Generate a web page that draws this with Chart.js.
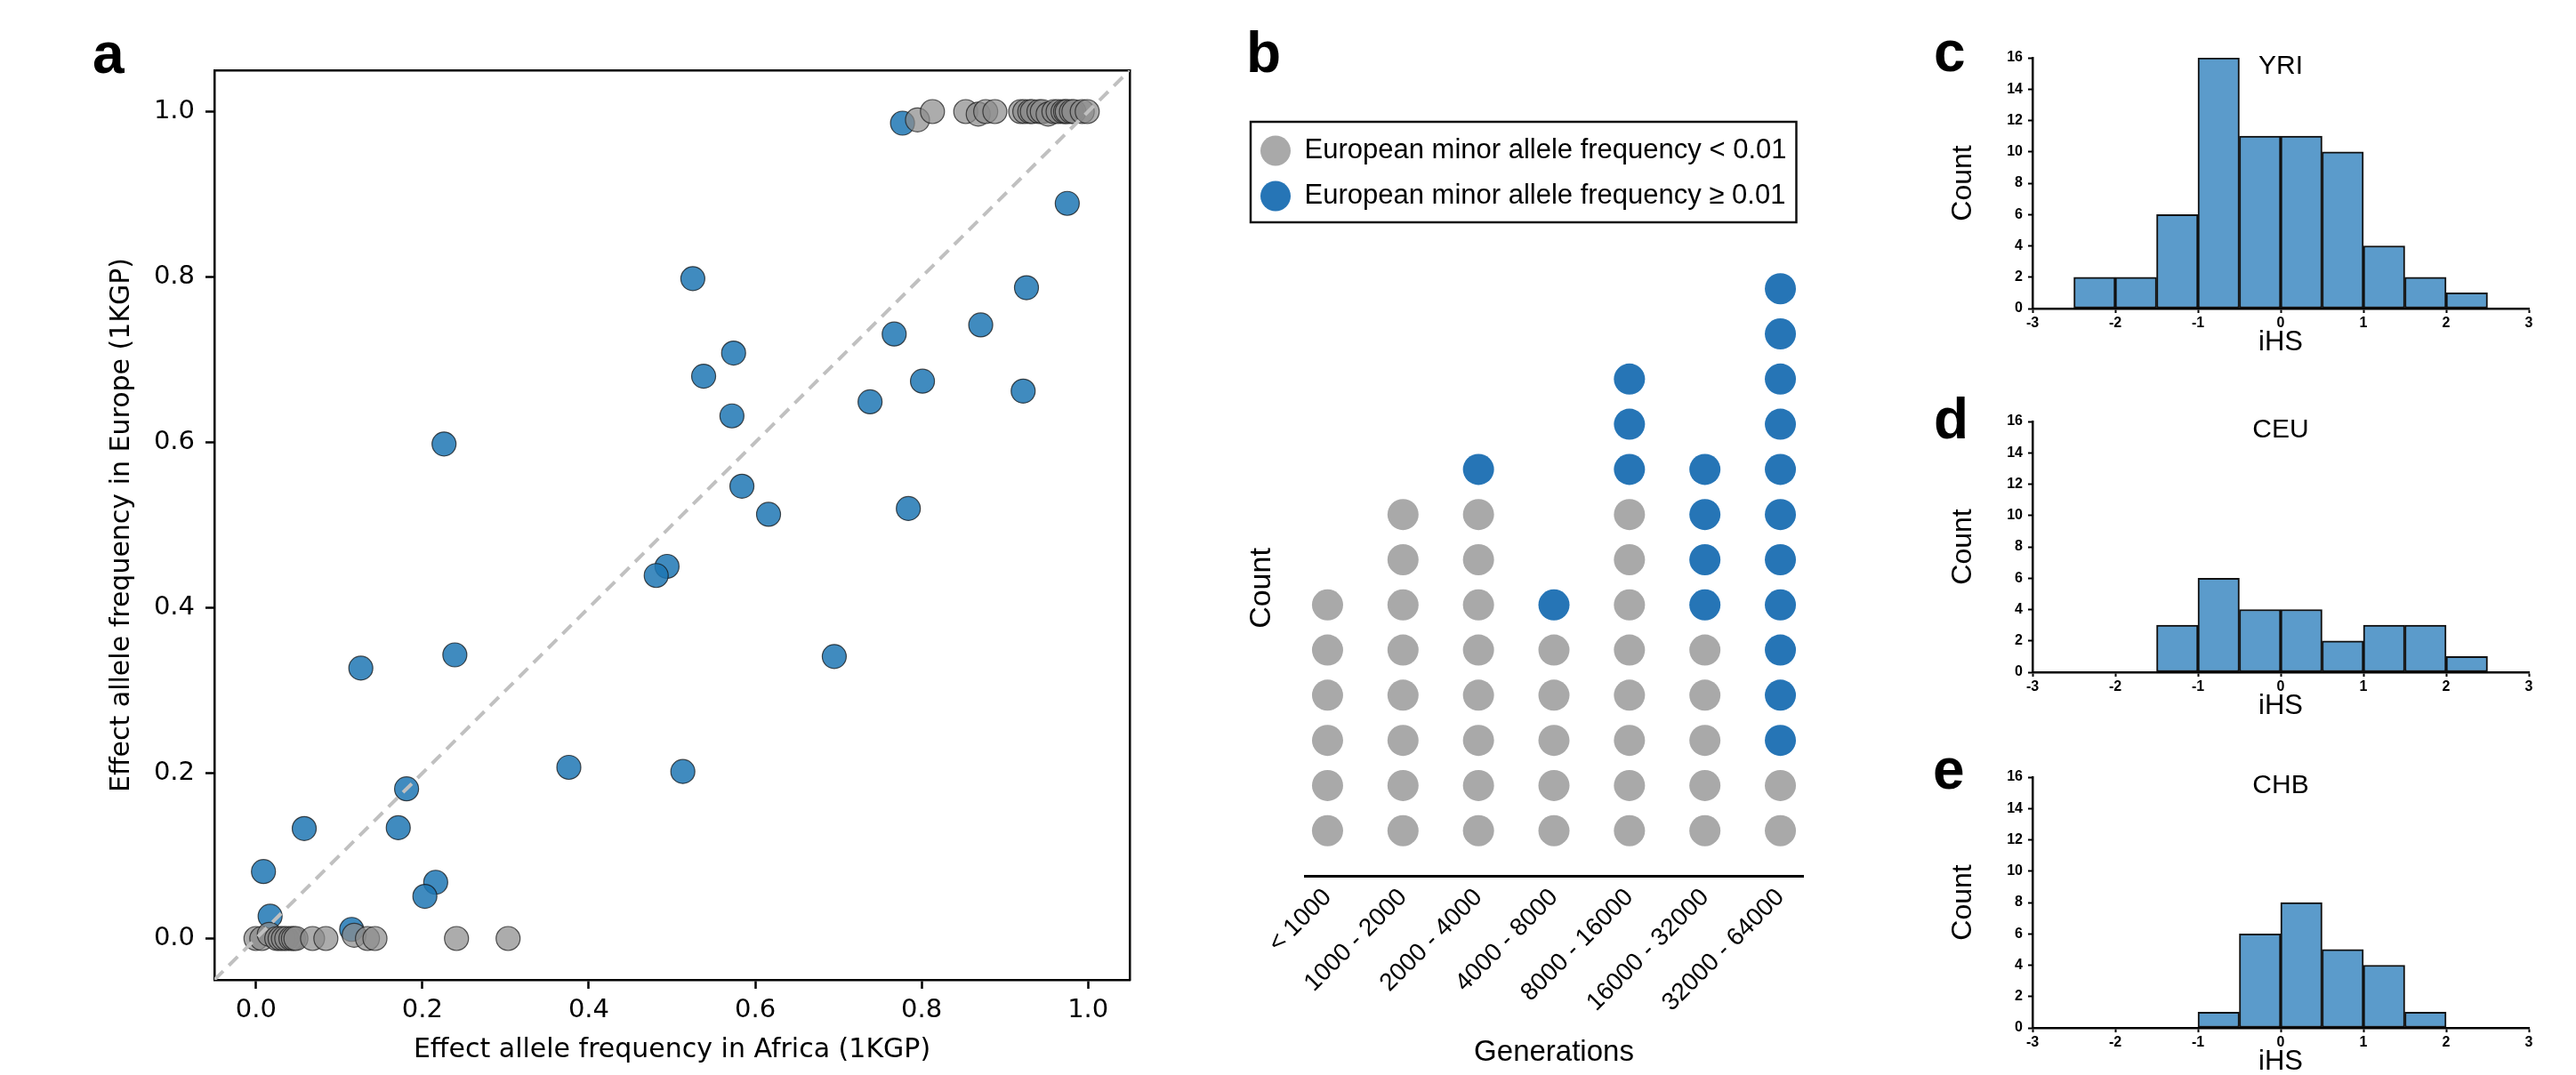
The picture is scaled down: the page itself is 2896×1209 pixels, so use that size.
<!DOCTYPE html>
<html>
<head>
<meta charset="utf-8">
<script src="https://cdn.jsdelivr.net/npm/chart.js@4.4.1/dist/chart.umd.min.js"></script>
<style>
html,body{margin:0;padding:0;background:#fff;overflow:hidden;}
#wrap{position:relative;width:2896px;height:1209px;overflow:hidden;}
canvas{position:absolute;}
.lbl{position:absolute;font-family:"Liberation Sans",Arial,sans-serif;font-weight:bold;font-size:64px;line-height:64px;color:#000;}
</style>
</head>
<body>
<div id="wrap">
<canvas id="ca" width="1320" height="1209" style="left:0;top:0"></canvas>
<canvas id="cb" width="700" height="1209" style="left:1360px;top:0"></canvas>
<canvas id="cc" width="746" height="410" style="left:2150px;top:0"></canvas>
<canvas id="cd" width="746" height="410" style="left:2150px;top:409px"></canvas>
<canvas id="ce" width="746" height="410" style="left:2150px;top:809px"></canvas>
<div class="lbl" style="left:104px;top:28px">a</div>
<div class="lbl" style="left:1401px;top:27px">b</div>
<div class="lbl" style="left:2174px;top:26px">c</div>
<div class="lbl" style="left:2174px;top:439px">d</div>
<div class="lbl" style="left:2173px;top:833px">e</div>
</div>
<script>
// ---------- Panel a data ----------
const aTicks = [0, 0.2, 0.4, 0.6, 0.8, 1.0];
const aRange = [-0.05, 1.05];
const diagLine = [-0.05, 1.05];
const blueAfrica = [0.777,0.975,0.525,0.926,0.871,0.767,0.574,0.538,0.801,0.922,0.738,0.572,0.226,0.584,0.616,0.784,0.494,0.481,0.239,0.126,0.695,0.376,0.513,0.181,0.058,0.171,0.009,0.216,0.203,0.017,0.115];
const blueEurope = [0.986,0.889,0.798,0.787,0.742,0.731,0.708,0.680,0.674,0.662,0.649,0.632,0.598,0.547,0.513,0.520,0.450,0.439,0.343,0.327,0.341,0.207,0.202,0.181,0.133,0.134,0.081,0.068,0.051,0.027,0.011];
const greyAfrica = [0.795,0.813,0.853,0.868,0.877,0.888,0.919,0.924,0.930,0.933,0.941,0.945,0.952,0.959,0.964,0.970,0.973,0.975,0.980,0.983,0.993,0.999,
                    0.000,0.007,0.016,0.025,0.029,0.033,0.037,0.042,0.045,0.048,0.068,0.084,0.118,0.134,0.143,0.241,0.303];
const greyEurope = [0.990,1.000,1.000,0.997,1.000,1.000,1.000,1.000,1.000,1.000,1.000,1.000,0.997,1.000,1.000,1.000,1.000,1.000,1.000,1.000,1.000,1.000,
                    0.000,0.000,0.005,0.000,0.000,0.000,0.000,0.000,0.000,0.000,0.000,0.000,0.004,0.000,0.000,0.000,0.000];

// ---------- Panel b data ----------
const genBins = ['< 1000','1000 - 2000','2000 - 4000','4000 - 8000','8000 - 16000','16000 - 32000','32000 - 64000'];
const greyCount = [6, 8, 8, 5, 8, 5, 2];
const blueCount = [0, 0, 1, 1, 3, 4, 11];
const bLabels = ['European minor allele frequency < 0.01', 'European minor allele frequency \u2265 0.01'];

// ---------- Panels c-e data ----------
const binStarts = [-2.5, -2, -1.5, -1, -0.5, 0, 0.5, 1, 1.5, 2];
const binWidth = 0.5;
const yriCounts = [2, 2, 6, 16, 11, 11, 10, 4, 2, 1];
const ceuCounts = [0, 0, 3, 6, 4, 4, 2, 3, 3, 1];
const chbCounts = [0, 0, 0, 1, 6, 8, 5, 4, 1, 0];
const iHSTicks = [-3, -2, -1, 0, 1, 2, 3];
const countTicks = [0, 2, 4, 6, 8, 10, 12, 14, 16];

Chart.defaults.color = '#000';
Chart.defaults.font.family = '"Liberation Sans", Arial, sans-serif';

const DV = '"DejaVu Sans", sans-serif';

// ---------- Panel a ----------
new Chart(document.getElementById('ca'), {
  type: 'scatter',
  data: {
    datasets: [
      { type: 'line', label: 'y = x', data: diagLine.map(v => ({x: v, y: v})),
        borderColor: '#c0c0c0', borderWidth: 4, borderDash: [14, 9], pointRadius: 0, fill: false, order: 0 },
      { label: 'grey', data: greyAfrica.map((x, i) => ({x, y: greyEurope[i]})),
        backgroundColor: 'rgba(140,140,140,0.72)', borderColor: 'rgba(30,30,30,0.75)', borderWidth: 1.2,
        pointRadius: 13.5, order: 1 },
      { label: 'blue', data: blueAfrica.map((x, i) => ({x, y: blueEurope[i]})),
        backgroundColor: 'rgba(31,119,180,0.85)', borderColor: 'rgba(20,20,20,0.75)', borderWidth: 1.2,
        pointRadius: 13.5, order: 2 }
    ]
  },
  options: {
    responsive: false, animation: false, devicePixelRatio: 1,
    layout: { padding: { left: 0, top: 79, right: 50, bottom: 0 } },
    plugins: { legend: { display: false }, tooltip: { enabled: false } },
    scales: {
      x: {
        type: 'linear', position: 'bottom', min: aRange[0], max: aRange[1],
        afterBuildTicks: s => { s.ticks = aTicks.map(v => ({value: v})); },
        ticks: { callback: v => Number(v).toFixed(1), font: { family: DV, size: 29 }, color: '#000', padding: 7, maxRotation: 0 },
        grid: { display: true, drawOnChartArea: false, drawTicks: true, tickLength: 10, tickWidth: 2.5, tickColor: '#000' },
        border: { display: true, color: '#000', width: 2.5 },
        title: { display: true, text: 'Effect allele frequency in Africa (1KGP)', font: { family: DV, size: 30 }, color: '#000', padding: { top: 0, bottom: 10 } },
        afterFit: s => { s.height = 107; }
      },
      y: {
        type: 'linear', position: 'left', min: aRange[0], max: aRange[1],
        afterBuildTicks: s => { s.ticks = aTicks.map(v => ({value: v})); },
        ticks: { callback: v => Number(v).toFixed(1), font: { family: DV, size: 29 }, color: '#000', padding: 12 },
        grid: { display: true, drawOnChartArea: false, drawTicks: true, tickLength: 10, tickWidth: 2.5, tickColor: '#000' },
        border: { display: true, color: '#000', width: 2.5 },
        title: { display: true, text: 'Effect allele frequency in Europe (1KGP)', font: { family: DV, size: 30 }, color: '#000', padding: { top: 119, bottom: 0 } },
        afterFit: s => { s.width = 241; }
      },
      x2: {
        type: 'linear', position: 'top', min: aRange[0], max: aRange[1], display: true,
        ticks: { display: false }, grid: { display: false, drawTicks: false },
        border: { display: true, color: '#000', width: 2.5 },
        afterFit: s => { s.height = 0; }
      },
      y2: {
        type: 'linear', position: 'right', min: aRange[0], max: aRange[1], display: true,
        ticks: { display: false }, grid: { display: false, drawTicks: false },
        border: { display: true, color: '#000', width: 2.5 },
        afterFit: s => { s.width = 0; }
      }
    }
  }
});

// ---------- Panel b ----------
const greyPts = [], bluePts = [];
genBins.forEach((_, i) => {
  for (let k = 1; k <= greyCount[i]; k++) greyPts.push({x: i, y: k});
  for (let k = 1; k <= blueCount[i]; k++) bluePts.push({x: i, y: greyCount[i] + k});
});

const legendFrame = {
  id: 'legendFrame',
  afterDraw(chart) {
    const hb = chart.legend && chart.legend.legendHitBoxes;
    if (!hb || !hb.length) return;
    const ctx = chart.ctx;
    const left = Math.min(...hb.map(h => h.left)) - 11;
    const top = Math.min(...hb.map(h => h.top)) - 17;
    const right = Math.max(...hb.map(h => h.left + h.width)) + 11;
    const bottom = Math.max(...hb.map(h => h.top + h.height)) + 14;
    ctx.save();
    ctx.strokeStyle = '#111';
    ctx.lineWidth = 2.5;
    ctx.strokeRect(left, top, right - left, bottom - top);
    ctx.restore();
  }
};

// moves the (tick-less) y-axis title of panel b down to where the reference has it
const countTitleShift = {
  id: 'countTitleShift',
  afterLayout(chart) { chart.scales.y.top += 92; }
};

new Chart(document.getElementById('cb'), {
  type: 'scatter',
  data: {
    datasets: [
      { label: bLabels[0], data: greyPts, backgroundColor: '#a9a9a9', borderWidth: 0, pointRadius: 17.5, pointHoverRadius: 17.5, clip: false },
      { label: bLabels[1], data: bluePts, backgroundColor: '#2675b6', borderWidth: 0, pointRadius: 17.5, pointHoverRadius: 17.5, clip: false }
    ]
  },
  options: {
    responsive: false, animation: false, devicePixelRatio: 1,
    layout: { padding: { left: 37, top: 134, right: 33, bottom: 0 } },
    plugins: {
      tooltip: { enabled: false },
      legend: {
        display: true, position: 'top', align: 'start',
        labels: { usePointStyle: true, pointStyleWidth: 34, boxHeight: 24, padding: 20,
                  font: { size: 31 }, color: '#000' }
      }
    },
    scales: {
      x: {
        type: 'linear', min: -0.3, max: 6.3,
        afterBuildTicks: s => { s.ticks = genBins.map((_, i) => ({value: i})); },
        ticks: { callback: v => genBins[v], minRotation: 45, maxRotation: 45, font: { size: 28 }, color: '#000', padding: 8 },
        grid: { display: false, drawTicks: false },
        border: { display: true, color: '#000', width: 3 },
        title: { display: true, text: 'Generations', font: { size: 33 }, color: '#000', padding: { top: 0, bottom: 5 } },
        afterFit: s => { s.height = 224; }
      },
      y: {
        min: 0, max: 14.55,
        ticks: { display: false },
        grid: { display: false, drawTicks: false },
        border: { display: false },
        title: { display: true, text: 'Count', font: { size: 34 }, color: '#000', padding: { top: 1, bottom: 0 } },
        afterFit: s => { s.width = 70; }
      }
    }
  },
  plugins: [legendFrame, countTitleShift]
});

// ---------- Panels c, d, e ----------
function histogram(id, name, counts) {
  new Chart(document.getElementById(id), {
    type: 'bar',
    data: {
      datasets: [{
        label: name,
        data: binStarts.map((s, i) => ({x: s + binWidth / 2, y: counts[i]})),
        backgroundColor: '#5b9bcb', borderColor: '#111', borderWidth: 2, borderSkipped: false,
        barPercentage: 1, categoryPercentage: 1
      }]
    },
    options: {
      responsive: false, animation: false, devicePixelRatio: 1,
      layout: { padding: { left: 0, top: 0, right: 53, bottom: 0 } },
      plugins: {
        legend: { display: false }, tooltip: { enabled: false },
        title: { display: true, text: name, fullSize: false, font: { size: 30, weight: 'normal' }, color: '#000',
                 padding: { top: 57, bottom: -28 } }
      },
      scales: {
        x: {
          type: 'linear', min: -3, max: 3, offset: false,
          afterBuildTicks: s => { s.ticks = iHSTicks.map(v => ({value: v})); },
          ticks: { font: { size: 16, weight: 'bold' }, color: '#000', padding: 2, maxRotation: 0 },
          grid: { display: true, offset: false, drawOnChartArea: false, drawTicks: true, tickLength: 5, tickWidth: 2, tickColor: '#000' },
          border: { display: true, color: '#000', width: 2.5 },
          title: { display: true, text: 'iHS', font: { size: 31 }, color: '#000', padding: { top: 0, bottom: 6 } },
          afterFit: s => { s.height = 63; }
        },
        y: {
          min: 0, max: 16,
          afterBuildTicks: s => { s.ticks = countTicks.map(v => ({value: v})); },
          ticks: { font: { size: 16, weight: 'bold' }, color: '#000', padding: 6 },
          grid: { display: true, drawOnChartArea: false, drawTicks: true, tickLength: 5, tickWidth: 2, tickColor: '#000' },
          border: { display: true, color: '#000', width: 2.5 },
          title: { display: true, text: 'Count', font: { size: 32 }, color: '#000', padding: { top: 38, bottom: 0 } },
          afterFit: s => { s.width = 135; }
        }
      }
    }
  });
}
histogram('cc', 'YRI', yriCounts);
histogram('cd', 'CEU', ceuCounts);
histogram('ce', 'CHB', chbCounts);
</script>
</body>
</html>
